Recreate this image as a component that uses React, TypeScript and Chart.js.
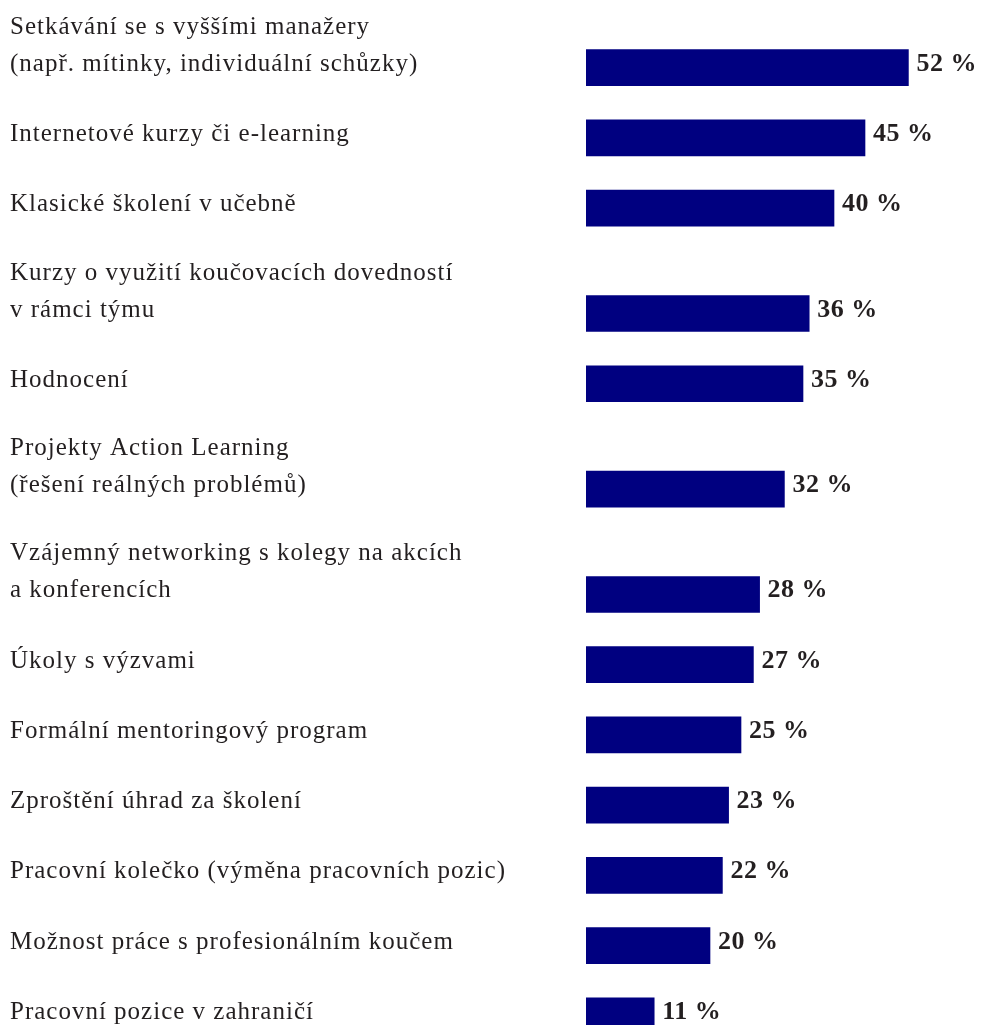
import React, { useEffect, useRef } from "react";
import { Chart, registerables } from "chart.js";

Chart.register(...registerables);

const categories: string[][] = [
  ["Setkávání se s vyššími manažery", "(např. mítinky, individuální schůzky)"],
  ["Internetové kurzy či e-learning"],
  ["Klasické školení v učebně"],
  ["Kurzy o využití koučovacích dovedností", "v rámci týmu"],
  ["Hodnocení"],
  ["Projekty Action Learning", "(řešení reálných problémů)"],
  ["Vzájemný networking s kolegy na akcích", "a konferencích"],
  ["Úkoly s výzvami"],
  ["Formální mentoringový program"],
  ["Zproštění úhrad za školení"],
  ["Pracovní kolečko (výměna pracovních pozic)"],
  ["Možnost práce s profesionálním koučem"],
  ["Pracovní pozice v zahraničí"],
];

const values: number[] = [52, 45, 40, 36, 35, 32, 28, 27, 25, 23, 22, 20, 11];

const valueLabels: string[] = values.map((v) => `${v} %`);

// Row slots: each row takes (number of label lines + 1) half-row units.
const rowPositions: number[] = (() => {
  const out: number[] = [];
  let acc = 0;
  categories.forEach((lines) => {
    acc += lines.length + 1;
    out.push(acc);
  });
  return out;
})();

const BAR_COLOR = "#000080";
const TEXT_COLOR = "#231f20";
const CANVAS_W = 968;
const CANVAS_H = 1043;

const labelPlugin = {
  id: "rowLabels",
  afterDatasetsDraw(chart: any) {
    const ctx = chart.ctx as CanvasRenderingContext2D;
    const meta = chart.getDatasetMeta(0);
    ctx.save();
    meta.data.forEach((bar: any, i: number) => {
      const lines = categories[i];
      const yc = bar.y;
      // category labels, last line aligned with bar centre
      ctx.font = "25px 'Liberation Serif', 'Times New Roman', serif";
      (ctx as any).letterSpacing = "1px";
      ctx.fillStyle = TEXT_COLOR;
      ctx.textAlign = "left";
      ctx.textBaseline = "alphabetic";
      lines.forEach((line, k) => {
        const offset = (lines.length - 1 - k) * 37;
        ctx.fillText(line, 2, yc + 3 - offset);
      });
      // value labels
      ctx.font = "bold 26px 'Liberation Serif', 'Times New Roman', serif";
      (ctx as any).letterSpacing = "0.5px";
      ctx.fillText(valueLabels[i], bar.x + 8, yc + 3);
    });
    ctx.restore();
  },
};

export default function App() {
  const ref = useRef<HTMLCanvasElement | null>(null);
  useEffect(() => {
    if (!ref.current) return;
    const chart = new Chart(ref.current, {
      type: "bar",
      data: {
        datasets: [
          {
            data: values.map((v, i) => ({ x: v, y: rowPositions[i] })),
            backgroundColor: BAR_COLOR,
            borderWidth: 0,
            barThickness: 36,
          },
        ],
      },
      options: {
        indexAxis: "y",
        responsive: false,
        animation: false,
        events: [],
        layout: { padding: { left: 578, right: CANVAS_W - 578 - 6.2 * 60, top: 0, bottom: 0 } },
        plugins: { legend: { display: false }, tooltip: { enabled: false } },
        scales: {
          x: { type: "linear", min: 0, max: 60, display: false, grid: { display: false } },
          y: {
            type: "linear",
            min: 1.3,
            max: 31,
            reverse: true,
            offset: false,
            display: false,
            grid: { display: false, offset: false },
          },
        },
      },
      plugins: [labelPlugin],
    } as any);
    return () => chart.destroy();
  }, []);
  return (
    <div style={{ width: CANVAS_W, height: CANVAS_H }}>
      <canvas ref={ref} width={CANVAS_W} height={CANVAS_H} style={{ display: "block" }} />
    </div>
  );
}
